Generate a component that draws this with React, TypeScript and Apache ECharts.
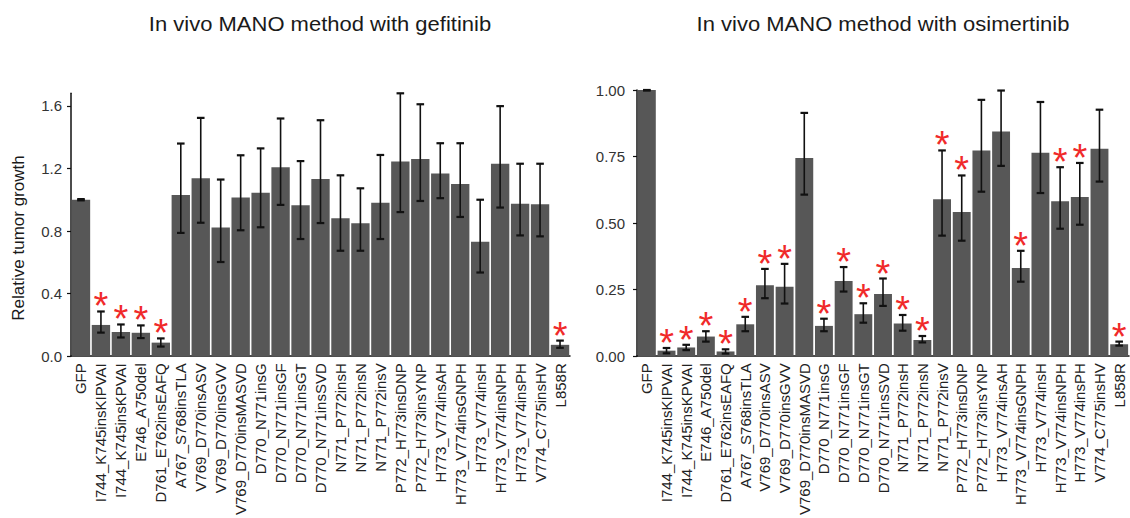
import React, { useEffect, useRef } from "react";
import * as echarts from "echarts";

const categories = [
  "GFP", "I744_K745insKIPVAI", "I744_K745insKPVAI", "E746_A750del", "D761_E762insEAFQ",
  "A767_S768insTLA", "V769_D770insASV", "V769_D770insGVV", "V769_D770insMASVD",
  "D770_N771insG", "D770_N771insGF", "D770_N771insGT", "D770_N771insSVD",
  "N771_P772insH", "N771_P772insN", "N771_P772insV", "P772_H773insDNP", "P772_H773insYNP",
  "H773_V774insAH", "H773_V774insGNPH", "H773_V774insH", "H773_V774insNPH", "H773_V774insPH",
  "V774_C775insHV", "L858R",
];

const gefMean = [1.0, 0.2, 0.155, 0.15, 0.087, 1.03, 1.137, 0.822, 1.015, 1.044, 1.207, 0.965, 1.133, 0.882, 0.849, 0.981, 1.245, 1.261, 1.168, 1.1, 0.732, 1.23, 0.975, 0.971, 0.073];
const gefLow = [0.996, 0.151, 0.12, 0.116, 0.062, 0.788, 0.853, 0.602, 0.805, 0.824, 0.967, 0.749, 0.851, 0.674, 0.674, 0.749, 0.921, 0.992, 1.01, 0.89, 0.535, 0.95, 0.772, 0.766, 0.054];
const gefHigh = [1.004, 0.286, 0.203, 0.197, 0.114, 1.359, 1.523, 1.129, 1.284, 1.328, 1.519, 1.247, 1.508, 1.156, 1.073, 1.286, 1.68, 1.61, 1.361, 1.361, 1.0, 1.598, 1.23, 1.23, 0.1];
const gefSig = [0, 1, 1, 1, 1, 0, 0, 0, 0, 0, 0, 0, 0, 0, 0, 0, 0, 0, 0, 0, 0, 0, 0, 0, 1];

const osiMean = [1.0, 0.021, 0.033, 0.074, 0.018, 0.12, 0.267, 0.261, 0.745, 0.114, 0.283, 0.158, 0.234, 0.123, 0.061, 0.59, 0.542, 0.773, 0.844, 0.331, 0.764, 0.582, 0.598, 0.779, 0.045];
const osiLow = [0.998, 0.011, 0.023, 0.055, 0.01, 0.094, 0.218, 0.198, 0.607, 0.094, 0.243, 0.126, 0.189, 0.096, 0.052, 0.453, 0.434, 0.618, 0.715, 0.28, 0.613, 0.479, 0.494, 0.656, 0.04];
const osiHigh = [1.0, 0.031, 0.043, 0.094, 0.026, 0.148, 0.328, 0.347, 0.914, 0.141, 0.335, 0.199, 0.292, 0.155, 0.076, 0.773, 0.679, 0.963, 0.998, 0.396, 0.955, 0.71, 0.726, 0.926, 0.055];
const osiSig = [0, 1, 1, 1, 1, 1, 1, 1, 0, 1, 1, 1, 1, 1, 1, 1, 1, 0, 0, 1, 0, 1, 1, 0, 1];

const gefTicks = [0, 0.4, 0.8, 1.2, 1.6];
const osiTicks = [0, 0.25, 0.5, 0.75, 1.0];

const FONT = "'Liberation Sans', Arial, sans-serif";
const BAR_COLOR = "#575757";
const AXIS_COLOR = "#111";

function errorSeries(idx: number, low: number[], high: number[]) {
  return {
    type: "custom",
    xAxisIndex: idx,
    yAxisIndex: idx,
    silent: true,
    data: low.map((l, i) => [i, l, high[i]]),
    encode: { x: 0, y: [1, 2] },
    renderItem: (params: any, api: any) => {
      const i = api.value(0);
      const lo = api.coord([i, api.value(1)]);
      const hi = api.coord([i, api.value(2)]);
      const x = lo[0];
      const cap = 3.8;
      const capStyle = { stroke: "#111", lineWidth: 2.2 };
      return {
        type: "group",
        children: [
          { type: "line", shape: { x1: x, y1: lo[1], x2: x, y2: hi[1] }, style: { stroke: "#111", lineWidth: 1.6 } },
          { type: "line", shape: { x1: x - cap, y1: hi[1], x2: x + cap, y2: hi[1] }, style: capStyle },
          { type: "line", shape: { x1: x - cap, y1: lo[1], x2: x + cap, y2: lo[1] }, style: capStyle },
        ],
      };
    },
    z: 5,
  };
}

function starSeries(idx: number, high: number[], sig: number[]) {
  const data: number[][] = [];
  sig.forEach((s, i) => {
    if (s) data.push([i, high[i]]);
  });
  return {
    type: "custom",
    xAxisIndex: idx,
    yAxisIndex: idx,
    silent: true,
    clip: false,
    data,
    encode: { x: 0, y: 1 },
    renderItem: (params: any, api: any) => {
      const p = api.coord([api.value(0), api.value(1)]);
      return {
        type: "text",
        x: p[0],
        y: p[1] - 5,
        style: {
          text: "*",
          fill: "#f02a2a",
          font: `38px ${FONT}`,
          align: "center",
          verticalAlign: "middle",
          textAlign: "center",
          textVerticalAlign: "middle",
        },
      };
    },
    z: 6,
  };
}

function xAxisCfg(gridIndex: number) {
  return {
    type: "category",
    gridIndex,
    data: categories,
    axisLine: { lineStyle: { color: AXIS_COLOR, width: 1.5 } },
    axisTick: { alignWithLabel: true, length: 5, lineStyle: { color: AXIS_COLOR, width: 1.2 } },
    axisLabel: { rotate: 90, interval: 0, fontSize: 15, color: "#222", margin: 7, fontFamily: FONT },
  };
}

function yAxisCfg(gridIndex: number, max: number, ticks: number[], digits: number, margin: number) {
  return {
    type: "value",
    gridIndex,
    min: 0,
    max,
    axisLine: { show: true, lineStyle: { color: AXIS_COLOR, width: 1.5 } },
    axisTick: { show: true, length: 4, customValues: ticks, lineStyle: { color: AXIS_COLOR, width: 1.2 } },
    axisLabel: {
      customValues: ticks,
      formatter: (v: number) => v.toFixed(digits),
      fontSize: 15,
      color: "#333",
      margin,
      fontFamily: FONT,
    },
    splitLine: { show: false },
  };
}

function titleText(text: string, x: number) {
  return {
    type: "text",
    x,
    y: 24,
    scaleY: 0.88,
    style: {
      text,
      font: `22px ${FONT}`,
      fill: "#1a1a1a",
      align: "center",
      verticalAlign: "middle",
      textAlign: "center",
      textVerticalAlign: "middle",
    },
  };
}

export default function App() {
  const ref = useRef<HTMLDivElement>(null);
  useEffect(() => {
    if (!ref.current) return;
    const chart = echarts.init(ref.current, null, { renderer: "svg" });
    chart.setOption({
      animation: false,
      grid: [
        { left: 71, top: 93.3, width: 499, height: 269.4 },
        { left: 637, top: 90, width: 492, height: 271.7 },
      ],
      xAxis: [xAxisCfg(0), xAxisCfg(1)],
      yAxis: [yAxisCfg(0, 1.68, gefTicks, 1, 9), yAxisCfg(1, 1.0, osiTicks, 2, 12)],
      graphic: [
        titleText("In vivo MANO method with gefitinib", 320),
        titleText("In vivo MANO method with osimertinib", 883),
        {
          type: "text",
          x: 18,
          y: 238,
          rotation: Math.PI / 2,
          style: {
            text: "Relative tumor growth",
            font: `17px ${FONT}`,
            fill: "#1a1a1a",
            align: "center",
            verticalAlign: "middle",
            textAlign: "center",
            textVerticalAlign: "middle",
          },
        },
      ],
      series: [
        {
          type: "bar",
          xAxisIndex: 0,
          yAxisIndex: 0,
          data: gefMean,
          barWidth: "92%",
          itemStyle: { color: BAR_COLOR },
        },
        errorSeries(0, gefLow, gefHigh),
        starSeries(0, gefHigh, gefSig),
        {
          type: "bar",
          xAxisIndex: 1,
          yAxisIndex: 1,
          data: osiMean,
          barWidth: "91%",
          itemStyle: { color: BAR_COLOR },
        },
        errorSeries(1, osiLow, osiHigh),
        starSeries(1, osiHigh, osiSig),
      ],
    });
    return () => chart.dispose();
  }, []);
  return (
    <div
      ref={ref}
      style={{ position: "absolute", left: 0, top: 0, width: 1130, height: 518, background: "#fff" }}
    />
  );
}
